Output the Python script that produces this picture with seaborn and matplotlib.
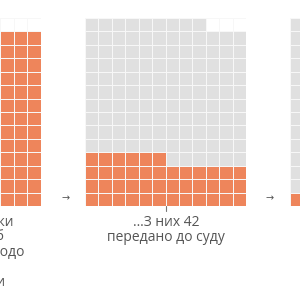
import numpy as np
import matplotlib.pyplot as plt
import seaborn as sns
from matplotlib.colors import ListedColormap

# Дані: три вафельні діаграми (по 165 клітинок), виділені клітинки знизу
totals = [165, 165, 165]
highlighted = [165, 42, 3]

left_caption = ["Проведено перевірки", "стосовно 165 осіб", "підозрюваних щодо", "", "корупції й зради"]
mid_caption = ["…З них 42", "передано до суду"]

orange = "#EE855B"
grey = "#E0E0E0"
text_color = "#555555"

sns.set_theme(style="white")
plt.rcParams['font.family'] = ['Open Sans', 'DejaVu Sans']

n_cols = 12


def waffle_matrix(total, hl):
    n_rows = int(np.ceil(total / n_cols))
    mat = np.full((n_rows, n_cols), np.nan)
    for k in range(total):
        r = n_rows - 1 - k // n_cols
        c = k % n_cols
        mat[r, c] = 1 if k < hl else 0
    return mat


fig = plt.figure(figsize=(3, 3), dpi=100)
cmap = ListedColormap([grey, orange])

# positions des grilles en pixels
lefts = [-120.3, 85, 290.3]
grid_w, grid_h, grid_bottom = 161, 188, 206

for total, hl, left in zip(totals, highlighted, lefts):
    ax = fig.add_axes([left / 300, (300 - grid_bottom) / 300, grid_w / 300, grid_h / 300])
    sns.heatmap(waffle_matrix(total, hl), ax=ax, cmap=cmap, vmin=0, vmax=1, cbar=False,
                linewidths=0.6, linecolor='#F7F7F7', xticklabels=False, yticklabels=False)
    ax.set_xlabel('')
    ax.set_ylabel('')
    if left == 85:
        ax.plot([0.5, 0.5], [0, -0.027], transform=ax.transAxes, color='#777777',
                lw=0.8, clip_on=False)

# flèches entre les grilles
for x in [66, 270]:
    fig.text(x / 300, 1 - 199 / 300, "→", ha='center', va='center', fontsize=7, color=text_color)

# texte sous la grille du milieu
for i, line in enumerate(mid_caption):
    fig.text(166 / 300, 1 - (222 + 15.5 * i) / 300, line, ha='center', va='center',
             fontsize=10, color=text_color)

# texte sous la grille de gauche (coupé par le bord)
left_ends = [14, 4, 24, 0, 5]
for i, (line, x_end) in enumerate(zip(left_caption, left_ends)):
    if line:
        fig.text(x_end / 300, 1 - (222 + 15 * i) / 300, line, ha='right', va='center',
                 fontsize=10, color=text_color)

fig.savefig('out.png', dpi=100)
